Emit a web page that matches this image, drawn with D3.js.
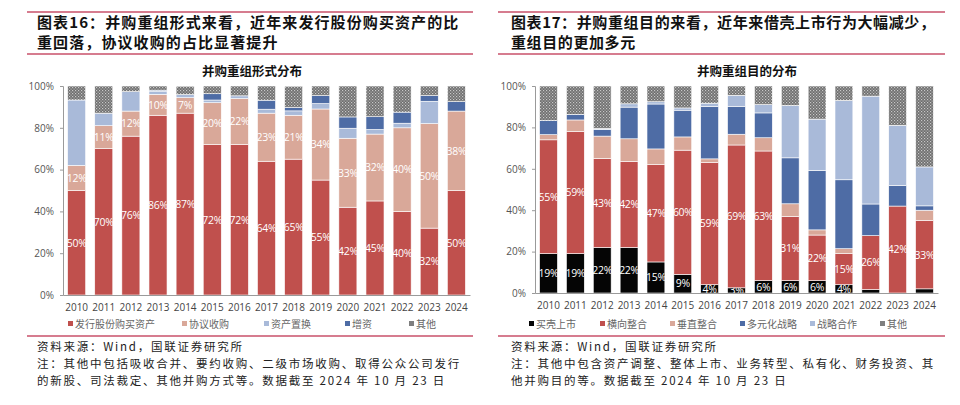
<!DOCTYPE html>
<html><head><meta charset="utf-8">
<script src="https://cdn.jsdelivr.net/npm/d3@7/dist/d3.min.js"></script>
<style>
body{margin:0;background:#fff;}
svg{display:block;font-family:"Noto Sans CJK SC","Noto Sans",sans-serif;}
</style></head>
<body><svg id="c" width="960" height="405"></svg>
<script>
const years = ["2010","2011","2012","2013","2014","2015","2016","2017","2018","2019","2020","2021","2022","2023","2024"];
const yTicks = [0,20,40,60,80,100];

// Chart 16: 并购重组形式分布
const formNames = ["发行股份购买资产","协议收购","资产置换","增资","其他"];
const issueShares = [50,70,76,86,87,72,72,64,65,55,42,45,40,32,50];
const agreement   = [12,11,12,10,7.4,20,22,23,21,34,33,32,40,50,38];
const assetSwap   = [31.3,6,9.3,1.5,1.5,1.3,1.3,1.9,2.1,2.6,4.8,2.2,2.2,10.7,0];
const capitalInc  = [0,0,0,0.5,0,3,0,4.3,1.6,3.8,5.4,6.1,5.3,2.7,4.5];
const otherForm   = [6.7,13,2.7,2,4,3.7,4.7,6.8,10.2,4.6,14.8,14.7,12.5,4.6,7.5];

// Chart 17: 并购重组目的分布
const purposeNames = ["买壳上市","横向整合","垂直整合","多元化战略","战略合作","其他"];
const shellListing = [19,19,22,22,15,9,4,2.5,6,6,6,4,1.7,0,2];
const horizontal   = [55,59,43,41.6,47,60,59,69,62.6,31,22,15,26,42,33];
const vertical     = [2.5,5.6,10.8,10.9,7.6,6.4,1.8,5.2,6.4,6.1,2.5,2.4,0,0,5];
const diversify    = [6.8,2.7,3.2,15.3,21.7,12.9,25.3,13.5,12,22.2,28.7,33.3,15.3,10,2.1];
const strategic    = [0,0,0.5,1.6,1.1,1.1,1.6,5.3,4,25.3,24.8,38.3,52.1,29,18.8];
const otherPurpose = [16.7,13.7,20.5,8.6,7.6,10.6,8.3,4.5,9,9.4,16,7,4.9,19,39.1];

const svg = d3.select("#c");
svg.append("rect").attr("width",960).attr("height",405).attr("fill","#fff");

// pattern for "其他"
const defs = svg.append("defs");
const pat = defs.append("pattern").attr("id","dots").attr("width",3).attr("height",3).attr("patternUnits","userSpaceOnUse");
pat.append("rect").attr("width",3).attr("height",3).attr("fill","#6e6e6e");
pat.append("rect").attr("x",0).attr("y",0).attr("width",1.2).attr("height",1.2).attr("fill","#c8c8c8");
pat.append("rect").attr("x",1.5).attr("y",1.5).attr("width",1.2).attr("height",1.2).attr("fill","#b4b4b4");

const C = {red:"#C0504D", tan:"#D9A899", lb:"#A9BAD9", db:"#4E6CA5", black:"#050505", gray:"url(#dots)"};
const lineColor = "#C9506A";

function header(x0, x1, tx, lines, ls){
  svg.append("line").attr("x1",x0).attr("x2",x1).attr("y1",12).attr("y2",12).attr("stroke",lineColor).attr("stroke-width",1.5);
  svg.append("line").attr("x1",x0).attr("x2",x1).attr("y1",54).attr("y2",54).attr("stroke",lineColor).attr("stroke-width",1.5);
  lines.forEach((t,i)=>{
    svg.append("text").attr("x",tx).attr("y",28+i*20).attr("font-size",15).attr("font-weight","bold")
      .attr("letter-spacing",ls).attr("fill","#111").text(t);
  });
}
function footer(x0,x1,tx,lines){
  svg.append("line").attr("x1",x0).attr("x2",x1).attr("y1",336).attr("y2",336).attr("stroke",lineColor).attr("stroke-width",1.5);
  lines.forEach((t,i)=>{
    svg.append("text").attr("x",tx).attr("y",351+i*17).attr("font-size",11.5).attr("letter-spacing",1.75)
      .attr("fill","#222").text(t);
  });
}

function chart(opt){
  const g = svg.append("g");
  const x = d3.scaleBand().domain(years).range([opt.x0,opt.x1]).paddingInner(0.335).paddingOuter(0.17);
  const y = d3.scaleLinear().domain([0,100]).range([opt.yb,opt.yt]);
  const rows = years.map((yr,i)=>{const r={year:yr}; opt.series.forEach(s=>r[s.key]=s.values[i]); return r;});
  const stack = d3.stack().keys(opt.series.map(s=>s.key))(rows);
  stack.forEach((layer,li)=>{
    const s = opt.series[li];
    g.append("g").selectAll("rect").data(layer).join("rect")
      .attr("x",d=>x(d.data.year)).attr("width",x.bandwidth())
      .attr("y",d=>y(d[1])).attr("height",d=>Math.max(0,y(d[0])-y(d[1])))
      .attr("fill",s.color).attr("stroke","#fff").attr("stroke-width",0.6);
    if(s.label){
      g.append("g").selectAll("text").data(layer.filter(d=>(d[1]-d[0])>=s.min)).join("text")
        .attr("x",d=>x(d.data.year)+x.bandwidth()/2).attr("y",d=>y((d[0]+d[1])/2)+3.8)
        .attr("text-anchor","middle").attr("font-size",10.5).attr("fill","#fff")
        .attr("font-family","'Open Sans','Noto Sans',sans-serif").attr("letter-spacing",-0.3)
        .text(d=>Math.round(d[1]-d[0])+"%");
    }
  });
  // axes
  const ya = g.append("g").attr("transform",`translate(${opt.x0},0)`)
    .call(d3.axisLeft(y).tickValues(yTicks).tickFormat(d=>d+"%").tickSize(3).tickPadding(6));
  ya.select(".domain").attr("stroke","#9a9a9a");
  ya.selectAll(".tick line").attr("stroke","#9a9a9a");
  ya.selectAll("text").attr("font-size",10).attr("fill","#555").attr("font-family","'Open Sans','Noto Sans',sans-serif");
  const xa = g.append("g").attr("transform",`translate(0,${opt.yb})`)
    .call(d3.axisBottom(x).tickSize(0).tickPadding(9));
  xa.select(".domain").attr("stroke","#9a9a9a");
  xa.selectAll("text").attr("font-size",10).attr("fill","#444").attr("font-family","'Open Sans','Noto Sans',sans-serif");
  // chart title
  g.append("text").attr("x",opt.titleX).attr("y",76).attr("text-anchor","middle").attr("font-size",12.5)
    .attr("font-weight","bold").attr("fill","#111").text(opt.title);
  // legend
  opt.series.forEach((s,i)=>{
    const lx = opt.legendX[i];
    g.append("rect").attr("x",lx).attr("y",321).attr("width",5).attr("height",5).attr("fill",s.legendColor||s.color);
    g.append("text").attr("x",lx+7).attr("y",328).attr("font-size",10).attr("fill","#666").text(s.name);
  });
}

header(27,473,37,["图表16：并购重组形式来看，近年来发行股份购买资产的比","重回落，协议收购的占比显著提升"],1.1);
header(498,945,511,["图表17：并购重组目的来看，近年来借壳上市行为大幅减少，","重组目的更加多元"],0.6);

chart({x0:63,x1:470,yb:295,yt:86,titleX:252,title:"并购重组形式分布",
  legendX:[68,182,264,345,409],
  series:[
    {key:"a",name:formNames[0],values:issueShares,color:C.red,label:true,min:0},
    {key:"b",name:formNames[1],values:agreement,color:C.tan,label:true,min:0},
    {key:"c",name:formNames[2],values:assetSwap,color:C.lb},
    {key:"d",name:formNames[3],values:capitalInc,color:C.db},
    {key:"e",name:formNames[4],values:otherForm,color:C.gray,legendColor:"#7f7f7f"}
  ]});

chart({x0:535,x1:938,yb:293,yt:86,titleX:747,title:"并购重组目的分布",
  legendX:[529,600,670,740,810,880],
  series:[
    {key:"a",name:purposeNames[0],values:shellListing,color:C.black,label:true,min:2.5},
    {key:"b",name:purposeNames[1],values:horizontal,color:C.red,label:true,min:0},
    {key:"c",name:purposeNames[2],values:vertical,color:C.tan},
    {key:"d",name:purposeNames[3],values:diversify,color:C.db},
    {key:"e",name:purposeNames[4],values:strategic,color:C.lb},
    {key:"f",name:purposeNames[5],values:otherPurpose,color:C.gray,legendColor:"#7f7f7f"}
  ]});

footer(27,473,37,["资料来源：Wind，国联证券研究所","注：其他中包括吸收合并、要约收购、二级市场收购、取得公众公司发行","的新股、司法裁定、其他并购方式等。数据截至 2024 年 10 月 23 日"]);
footer(498,945,511,["资料来源：Wind，国联证券研究所","注：其他中包含资产调整、整体上市、业务转型、私有化、财务投资、其","他并购目的等。数据截至 2024 年 10 月 23 日"]);
</script></body></html>
